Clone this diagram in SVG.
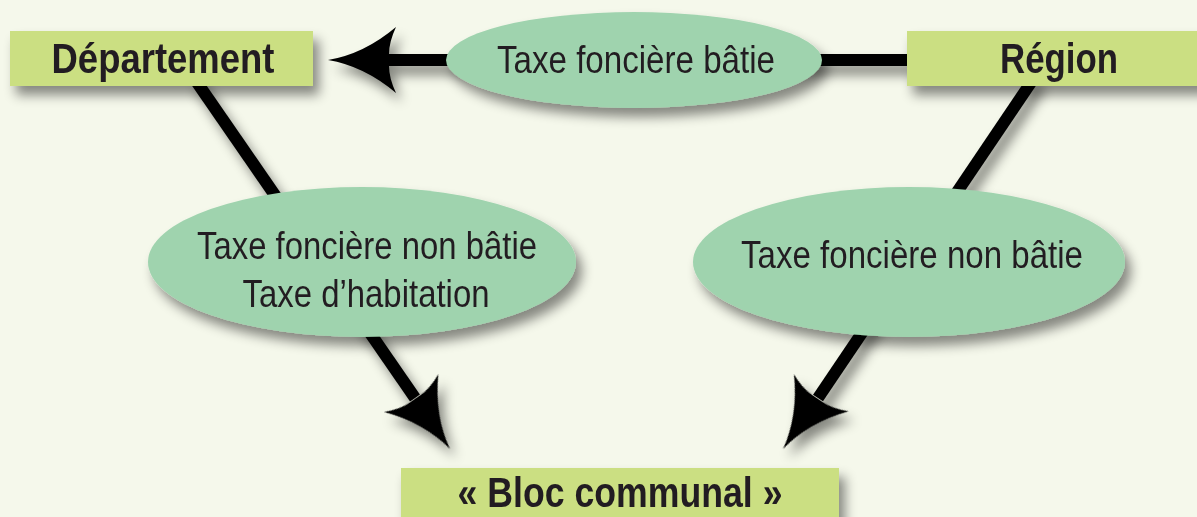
<svg xmlns="http://www.w3.org/2000/svg" width="1197" height="517" viewBox="0 0 1197 517">
  <defs>
    <filter id="sh" x="-20%" y="-20%" width="150%" height="170%">
      <feDropShadow dx="6" dy="9" stdDeviation="6" flood-color="#000" flood-opacity="0.45"/>
    </filter>
    <path id="head" d="M0,0 Q-36,-6 -68,-33 Q-61,-18 -61,-6 L-61,6 Q-61,18 -68,33 Q-36,6 0,0 Z"/>
  </defs>
  <style>
    .box { fill: #cbdf82; }
    .ell { fill: #9fd3ae; }
    .lbl { font-family: "Liberation Sans", Arial, sans-serif; font-weight: bold; font-size: 42px; fill: #231f20; text-anchor: middle; }
    .tax { font-family: "Liberation Sans", Arial, sans-serif; font-size: 39px; fill: #231f20; text-anchor: middle; }
    .shaft { stroke: #000; stroke-width: 12; fill: none; }
    .arrowhead { fill: #000; }
  </style>
  <rect width="1197" height="517" fill="#f5f8eb"/>

  <g id="connectors" filter="url(#sh)">
    <line class="shaft" x1="910" y1="60" x2="388" y2="60"/>
    <use href="#head" class="arrowhead" transform="translate(328,60) rotate(180)"/>
    <line class="shaft" x1="194" y1="78" x2="415" y2="398"/>
    <use href="#head" class="arrowhead" transform="translate(450,449) rotate(55.2)"/>
    <line class="shaft" x1="1034" y1="78" x2="818" y2="398"/>
    <use href="#head" class="arrowhead" transform="translate(783,449) rotate(124.2)"/>
  </g>

  <g id="tax-top" filter="url(#sh)">
    <ellipse class="ell" cx="634" cy="60" rx="188" ry="48"/>
    <text class="tax" x="636" y="73" textLength="278" lengthAdjust="spacingAndGlyphs">Taxe foncière bâtie</text>
  </g>
  <g id="tax-left" filter="url(#sh)">
    <ellipse class="ell" cx="362" cy="262" rx="214" ry="75"/>
    <text class="tax" x="367" y="259" textLength="340" lengthAdjust="spacingAndGlyphs">Taxe foncière non bâtie</text>
    <text class="tax" x="366" y="307" textLength="247" lengthAdjust="spacingAndGlyphs">Taxe d’habitation</text>
  </g>
  <g id="tax-right" filter="url(#sh)">
    <ellipse class="ell" cx="909" cy="262" rx="216" ry="75"/>
    <text class="tax" x="912" y="268" textLength="342" lengthAdjust="spacingAndGlyphs">Taxe foncière non bâtie</text>
  </g>

  <g id="departement" filter="url(#sh)">
    <rect class="box" x="10" y="31" width="303" height="55"/>
    <text class="lbl" x="163" y="73" textLength="223" lengthAdjust="spacingAndGlyphs">Département</text>
  </g>
  <g id="region" filter="url(#sh)">
    <rect class="box" x="907" y="31" width="300" height="55"/>
    <text class="lbl" x="1059" y="73" textLength="118" lengthAdjust="spacingAndGlyphs">Région</text>
  </g>
  <g id="bloc-communal" filter="url(#sh)">
    <rect class="box" x="401" y="468" width="438" height="60"/>
    <text class="lbl" x="620" y="507" textLength="325" lengthAdjust="spacingAndGlyphs">« Bloc communal »</text>
  </g>
</svg>
